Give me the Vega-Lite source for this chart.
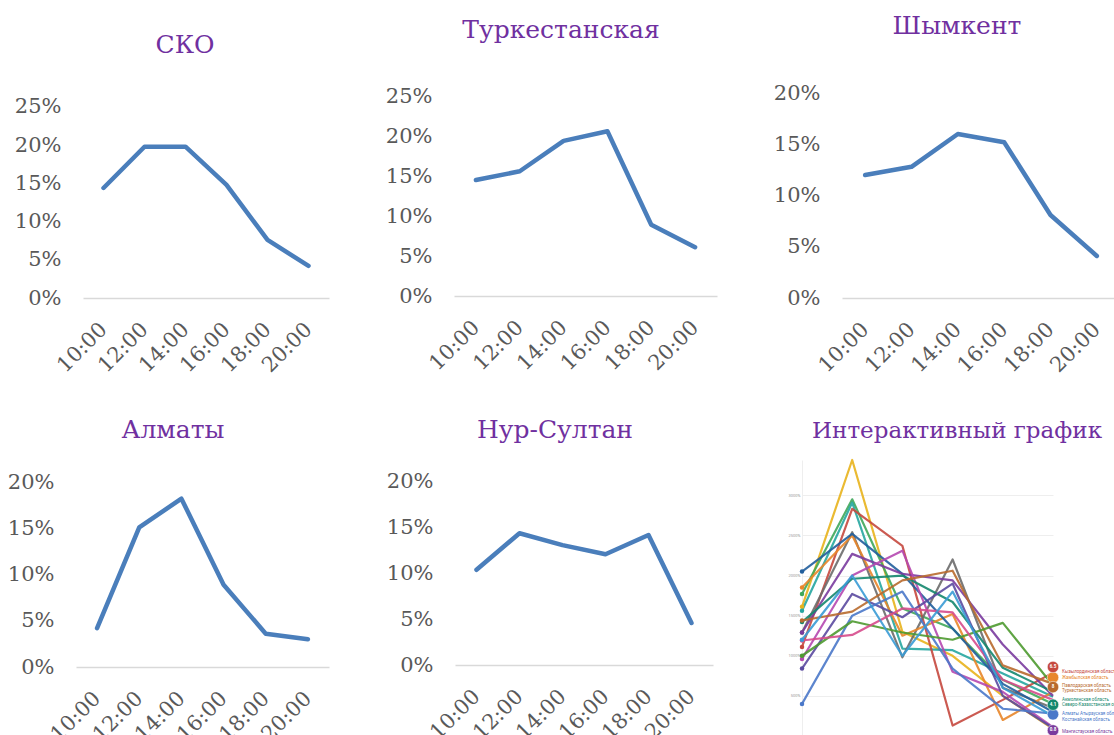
{
  "$schema": "https://vega.github.io/schema/vega-lite/v6.json",
  "padding": {"left": 7, "top": 13, "right": 0, "bottom": 0},
  "background": "white",
  "columns": 3,
  "align": "each",
  "bounds": "flush",
  "spacing": {"row": 162, "column": 125},
  "datasets": {
    "regions": [
      {"region": "СКО", "time": "10:00", "share": 0.144},
      {"region": "СКО", "time": "12:00", "share": 0.198},
      {"region": "СКО", "time": "14:00", "share": 0.198},
      {"region": "СКО", "time": "16:00", "share": 0.148},
      {"region": "СКО", "time": "18:00", "share": 0.076},
      {"region": "СКО", "time": "20:00", "share": 0.042},
      {"region": "Туркестанская", "time": "10:00", "share": 0.145},
      {"region": "Туркестанская", "time": "12:00", "share": 0.156},
      {"region": "Туркестанская", "time": "14:00", "share": 0.194},
      {"region": "Туркестанская", "time": "16:00", "share": 0.206},
      {"region": "Туркестанская", "time": "18:00", "share": 0.089},
      {"region": "Туркестанская", "time": "20:00", "share": 0.061},
      {"region": "Шымкент", "time": "10:00", "share": 0.120},
      {"region": "Шымкент", "time": "12:00", "share": 0.128},
      {"region": "Шымкент", "time": "14:00", "share": 0.160},
      {"region": "Шымкент", "time": "16:00", "share": 0.152},
      {"region": "Шымкент", "time": "18:00", "share": 0.081},
      {"region": "Шымкент", "time": "20:00", "share": 0.041},
      {"region": "Алматы", "time": "10:00", "share": 0.042},
      {"region": "Алматы", "time": "12:00", "share": 0.151},
      {"region": "Алматы", "time": "14:00", "share": 0.182},
      {"region": "Алматы", "time": "16:00", "share": 0.089},
      {"region": "Алматы", "time": "18:00", "share": 0.036},
      {"region": "Алматы", "time": "20:00", "share": 0.030},
      {"region": "Нур-Султан", "time": "10:00", "share": 0.104},
      {"region": "Нур-Султан", "time": "12:00", "share": 0.144},
      {"region": "Нур-Султан", "time": "14:00", "share": 0.131},
      {"region": "Нур-Султан", "time": "16:00", "share": 0.121},
      {"region": "Нур-Султан", "time": "18:00", "share": 0.142},
      {"region": "Нур-Султан", "time": "20:00", "share": 0.046}
    ],
    "interactive": [
      {"s": "A", "t": "10:00", "v": 16.1}, {"s": "A", "t": "12:00", "v": 34.4}, {"s": "A", "t": "14:00", "v": 13.0}, {"s": "A", "t": "16:00", "v": 10.0}, {"s": "A", "t": "18:00", "v": 5.0}, {"s": "A", "t": "20:00", "v": 0.9},
      {"s": "B", "t": "10:00", "v": 17.7}, {"s": "B", "t": "12:00", "v": 29.5}, {"s": "B", "t": "14:00", "v": 15.9}, {"s": "B", "t": "16:00", "v": 13.4}, {"s": "B", "t": "18:00", "v": 7.0}, {"s": "B", "t": "20:00", "v": 4.0},
      {"s": "C", "t": "10:00", "v": 15.6}, {"s": "C", "t": "12:00", "v": 29.1}, {"s": "C", "t": "14:00", "v": 10.9}, {"s": "C", "t": "16:00", "v": 10.7}, {"s": "C", "t": "18:00", "v": 7.8}, {"s": "C", "t": "20:00", "v": 4.9},
      {"s": "D", "t": "10:00", "v": 11.1}, {"s": "D", "t": "12:00", "v": 28.3}, {"s": "D", "t": "14:00", "v": 23.7}, {"s": "D", "t": "16:00", "v": 1.3}, {"s": "D", "t": "18:00", "v": 4.5}, {"s": "D", "t": "20:00", "v": 7.9},
      {"s": "E", "t": "10:00", "v": 12.9}, {"s": "E", "t": "12:00", "v": 25.4}, {"s": "E", "t": "14:00", "v": 9.8}, {"s": "E", "t": "16:00", "v": 22.0}, {"s": "E", "t": "18:00", "v": 6.0}, {"s": "E", "t": "20:00", "v": 3.5},
      {"s": "F", "t": "10:00", "v": 18.5}, {"s": "F", "t": "12:00", "v": 25.0}, {"s": "F", "t": "14:00", "v": 12.5}, {"s": "F", "t": "16:00", "v": 15.2}, {"s": "F", "t": "18:00", "v": 2.0}, {"s": "F", "t": "20:00", "v": 5.5},
      {"s": "G", "t": "10:00", "v": 20.5}, {"s": "G", "t": "12:00", "v": 25.2}, {"s": "G", "t": "14:00", "v": 20.2}, {"s": "G", "t": "16:00", "v": 13.4}, {"s": "G", "t": "18:00", "v": 6.5}, {"s": "G", "t": "20:00", "v": 3.0},
      {"s": "H", "t": "10:00", "v": 12.9}, {"s": "H", "t": "12:00", "v": 22.7}, {"s": "H", "t": "14:00", "v": 20.2}, {"s": "H", "t": "16:00", "v": 19.4}, {"s": "H", "t": "18:00", "v": 11.4}, {"s": "H", "t": "20:00", "v": 5.0},
      {"s": "I", "t": "10:00", "v": 9.6}, {"s": "I", "t": "12:00", "v": 20.0}, {"s": "I", "t": "14:00", "v": 23.1}, {"s": "I", "t": "16:00", "v": 8.0}, {"s": "I", "t": "18:00", "v": 5.5}, {"s": "I", "t": "20:00", "v": 1.1},
      {"s": "J", "t": "10:00", "v": 14.2}, {"s": "J", "t": "12:00", "v": 19.6}, {"s": "J", "t": "14:00", "v": 20.0}, {"s": "J", "t": "16:00", "v": 16.7}, {"s": "J", "t": "18:00", "v": 8.5}, {"s": "J", "t": "20:00", "v": 5.5},
      {"s": "K", "t": "10:00", "v": 8.4}, {"s": "K", "t": "12:00", "v": 17.7}, {"s": "K", "t": "14:00", "v": 14.8}, {"s": "K", "t": "16:00", "v": 19.0}, {"s": "K", "t": "18:00", "v": 5.0}, {"s": "K", "t": "20:00", "v": 1.0},
      {"s": "L", "t": "10:00", "v": 14.4}, {"s": "L", "t": "12:00", "v": 15.5}, {"s": "L", "t": "14:00", "v": 19.4}, {"s": "L", "t": "16:00", "v": 20.6}, {"s": "L", "t": "18:00", "v": 8.8}, {"s": "L", "t": "20:00", "v": 6.5},
      {"s": "M", "t": "10:00", "v": 4.0}, {"s": "M", "t": "12:00", "v": 15.0}, {"s": "M", "t": "14:00", "v": 18.0}, {"s": "M", "t": "16:00", "v": 8.4}, {"s": "M", "t": "18:00", "v": 3.4}, {"s": "M", "t": "20:00", "v": 2.8},
      {"s": "N", "t": "10:00", "v": 10.0}, {"s": "N", "t": "12:00", "v": 14.3}, {"s": "N", "t": "14:00", "v": 12.9}, {"s": "N", "t": "16:00", "v": 12.0}, {"s": "N", "t": "18:00", "v": 14.1}, {"s": "N", "t": "20:00", "v": 6.3},
      {"s": "O", "t": "10:00", "v": 11.9}, {"s": "O", "t": "12:00", "v": 12.6}, {"s": "O", "t": "14:00", "v": 15.9}, {"s": "O", "t": "16:00", "v": 15.4}, {"s": "O", "t": "18:00", "v": 7.0}, {"s": "O", "t": "20:00", "v": 4.5},
      {"s": "P", "t": "10:00", "v": 12.0}, {"s": "P", "t": "12:00", "v": 20.0}, {"s": "P", "t": "14:00", "v": 10.0}, {"s": "P", "t": "16:00", "v": 18.0}, {"s": "P", "t": "18:00", "v": 6.0}, {"s": "P", "t": "20:00", "v": 2.5}
    ],
    "badges": [
      {"s": "F", "t": "20:00", "v": 7.3, "label": ""},
      {"s": "D", "t": "20:00", "v": 8.6, "label": "6.5"},
      {"s": "L", "t": "20:00", "v": 6.1, "label": "8"},
      {"s": "M", "t": "20:00", "v": 2.7, "label": ""},
      {"s": "J", "t": "20:00", "v": 3.9, "label": "4.1"},
      {"s": "H", "t": "20:00", "v": 0.7, "label": "0.8"}
    ],
    "names": [
      {"s": "D", "t": "20:00", "v": 8.0, "name": "Кызылординская область"},
      {"s": "F", "t": "20:00", "v": 7.2, "name": "Жамбылская область"},
      {"s": "L", "t": "20:00", "v": 6.2, "name": "Павлодарская область"},
      {"s": "L", "t": "20:00", "v": 5.6, "name": "Туркестанская область"},
      {"s": "J", "t": "20:00", "v": 4.5, "name": "Акмолинская область"},
      {"s": "J", "t": "20:00", "v": 3.9, "name": "Северо-Казахстанская область"},
      {"s": "M", "t": "20:00", "v": 2.7, "name": "Алматы  Атырауская область"},
      {"s": "M", "t": "20:00", "v": 2.0, "name": "Костанайская область"},
      {"s": "H", "t": "20:00", "v": 0.5, "name": "Мангистауская область"}
    ]
  },
  "concat": [
    {
      "title": {"text": "СКО", "dx": -17.5, "offset": 35},
      "width": 253, "height": 205,
      "data": {"name": "regions"},
      "transform": [{"filter": "datum.region === 'СКО'"}],
      "mark": {"type": "line", "color": "#4A7EBB", "strokeWidth": 4.5, "strokeCap": "round", "strokeJoin": "round"},
      "encoding": {
        "x": {"field": "time", "type": "ordinal", "scale": {"type": "point", "padding": 0.5, "range": [7, 253]}, "axis": {"title": null}},
        "y": {"field": "share", "type": "quantitative", "scale": {"domain": [0, 0.2683], "nice": false}, "axis": {"title": null, "values": [0, 0.05, 0.1, 0.15, 0.2, 0.25], "offset": -7}}
      }
    },
    {
      "title": {"text": "Туркестанская", "dx": -24.5, "offset": 42.5},
      "width": 263, "height": 203,
      "data": {"name": "regions"},
      "transform": [{"filter": "datum.region === 'Туркестанская'"}],
      "mark": {"type": "line", "color": "#4A7EBB", "strokeWidth": 4.5, "strokeCap": "round", "strokeJoin": "round"},
      "encoding": {
        "x": {"field": "time", "type": "ordinal", "scale": {"type": "point", "padding": 0.5}, "axis": {"title": null}},
        "y": {"field": "share", "type": "quantitative", "scale": {"domain": [0, 0.2538], "nice": false}, "axis": {"title": null, "values": [0, 0.05, 0.1, 0.15, 0.2, 0.25]}}
      }
    },
    {
      "title": {"text": "Шымкент", "dx": -24, "offset": 43.5},
      "width": 278, "height": 205,
      "data": {"name": "regions"},
      "transform": [{"filter": "datum.region === 'Шымкент'"}],
      "mark": {"type": "line", "color": "#4A7EBB", "strokeWidth": 4.5, "strokeCap": "round", "strokeJoin": "round"},
      "encoding": {
        "x": {"field": "time", "type": "ordinal", "scale": {"type": "point", "padding": 0.5}, "axis": {"title": null}},
        "y": {"field": "share", "type": "quantitative", "scale": {"domain": [0, 0.2], "nice": false}, "axis": {"title": null, "values": [0, 0.05, 0.1, 0.15, 0.2]}}
      }
    },
    {
      "title": {"text": "Алматы", "dx": -29.5, "offset": 17},
      "width": 253, "height": 207,
      "data": {"name": "regions"},
      "transform": [{"filter": "datum.region === 'Алматы'"}],
      "mark": {"type": "line", "color": "#4A7EBB", "strokeWidth": 4.5, "strokeCap": "round", "strokeJoin": "round"},
      "encoding": {
        "x": {"field": "time", "type": "ordinal", "scale": {"type": "point", "padding": 0.5}, "axis": {"title": null}},
        "y": {"field": "share", "type": "quantitative", "scale": {"domain": [0, 0.2238], "nice": false}, "axis": {"title": null, "values": [0, 0.05, 0.1, 0.15, 0.2]}}
      }
    },
    {
      "title": {"text": "Нур-Султан", "dx": -28.5, "offset": 17},
      "width": 259, "height": 205,
      "data": {"name": "regions"},
      "transform": [{"filter": "datum.region === 'Нур-Султан'"}],
      "mark": {"type": "line", "color": "#4A7EBB", "strokeWidth": 4.5, "strokeCap": "round", "strokeJoin": "round"},
      "encoding": {
        "x": {"field": "time", "type": "ordinal", "scale": {"type": "point", "padding": 0.5, "range": [1, 259]}, "axis": {"title": null}},
        "y": {"field": "share", "type": "quantitative", "scale": {"domain": [0, 0.224], "nice": false}, "axis": {"title": null, "values": [0, 0.05, 0.1, 0.15, 0.2], "offset": -1}}
      }
    },
    {
      "title": {"text": "Интерактивный график", "dx": 9.5, "offset": 16, "fontSize": 23},
      "width": 211, "height": 276,
      "layer": [
        {
          "data": {"name": "interactive"},
          "mark": {"type": "line", "strokeWidth": 2.2, "opacity": 0.9, "strokeJoin": "round"},
          "encoding": {
            "x": {"field": "t", "type": "ordinal", "scale": {"type": "point", "padding": 0, "range": [-40, 211]}, "axis": null},
            "y": {"field": "v", "type": "quantitative", "scale": {"domain": [0, 34.4], "nice": false},
                  "axis": {"title": null, "values": [0, 5, 10, 15, 20, 25, 30], "offset": 40, "labelFontSize": 4, "labelColor": "#999999", "labelPadding": 2, "labelFont": "Roboto", "grid": true, "gridColor": "#EEEEEE", "gridWidth": 1, "domain": true, "domainColor": "#EEEEEE"}},
            "color": {"field": "s", "type": "nominal", "legend": null,
                      "scale": {"domain": ["A", "B", "C", "D", "E", "F", "G", "H", "I", "J", "K", "L", "M", "N", "O", "P"],
                                "range": ["#E8B31C", "#3FA75A", "#26A6A0", "#C5483E", "#6B6B6B", "#E8862A", "#215E9C", "#7A3B9E", "#B548B0", "#14876E", "#5B4AA0", "#B86A2E", "#4A78C9", "#4E9A30", "#D64B8C", "#3A9BD5"]}}
          }
        },
        {
          "data": {"name": "interactive"},
          "transform": [{"filter": "datum.t === '10:00'"}],
          "mark": {"type": "circle", "size": 20, "opacity": 1},
          "encoding": {
            "x": {"field": "t", "type": "ordinal", "axis": null},
            "y": {"field": "v", "type": "quantitative"},
            "color": {"field": "s", "type": "nominal", "legend": null}
          }
        },
        {
          "data": {"name": "badges"},
          "mark": {"type": "circle", "size": 130, "opacity": 1, "stroke": "#FFFFFF", "strokeOpacity": 0.5, "strokeWidth": 1},
          "encoding": {
            "x": {"field": "t", "type": "ordinal", "axis": null},
            "y": {"field": "v", "type": "quantitative"},
            "color": {"field": "s", "type": "nominal", "legend": null}
          }
        },
        {
          "data": {"name": "badges"},
          "mark": {"type": "text", "fontSize": 4.5, "fontWeight": "bold", "color": "#FFFFFF", "font": "Roboto", "baseline": "middle"},
          "encoding": {
            "x": {"field": "t", "type": "ordinal", "axis": null},
            "y": {"field": "v", "type": "quantitative"},
            "text": {"field": "label"}
          }
        },
        {
          "data": {"name": "names"},
          "mark": {"type": "text", "fontSize": 4.5, "align": "left", "dx": 9, "font": "Roboto", "baseline": "middle"},
          "encoding": {
            "x": {"field": "t", "type": "ordinal", "axis": null},
            "y": {"field": "v", "type": "quantitative"},
            "text": {"field": "name"},
            "color": {"field": "s", "type": "nominal", "legend": null}
          }
        }
      ]
    }
  ],
  "config": {
    "font": "DejaVu Serif",
    "view": {"stroke": null},
    "title": {"font": "DejaVu Serif", "fontSize": 25, "color": "#7030A0", "fontWeight": "normal", "anchor": "middle", "frame": "group", "baseline": "middle"},
    "axisX": {"ticks": false, "tickSize": 0, "domainColor": "#D9D9D9", "domainWidth": 1.3, "labelAngle": -45, "labelAlign": "right", "labelBaseline": "middle", "labelPadding": 28, "labelFontSize": 21, "labelColor": "#595959", "labelFont": "DejaVu Serif", "labelOverlap": false, "grid": false},
    "axisY": {"ticks": false, "tickSize": 0, "domain": false, "grid": false, "format": ".0%", "labelPadding": 22, "labelFontSize": 21, "labelColor": "#595959", "labelFont": "DejaVu Serif"}
  }
}
